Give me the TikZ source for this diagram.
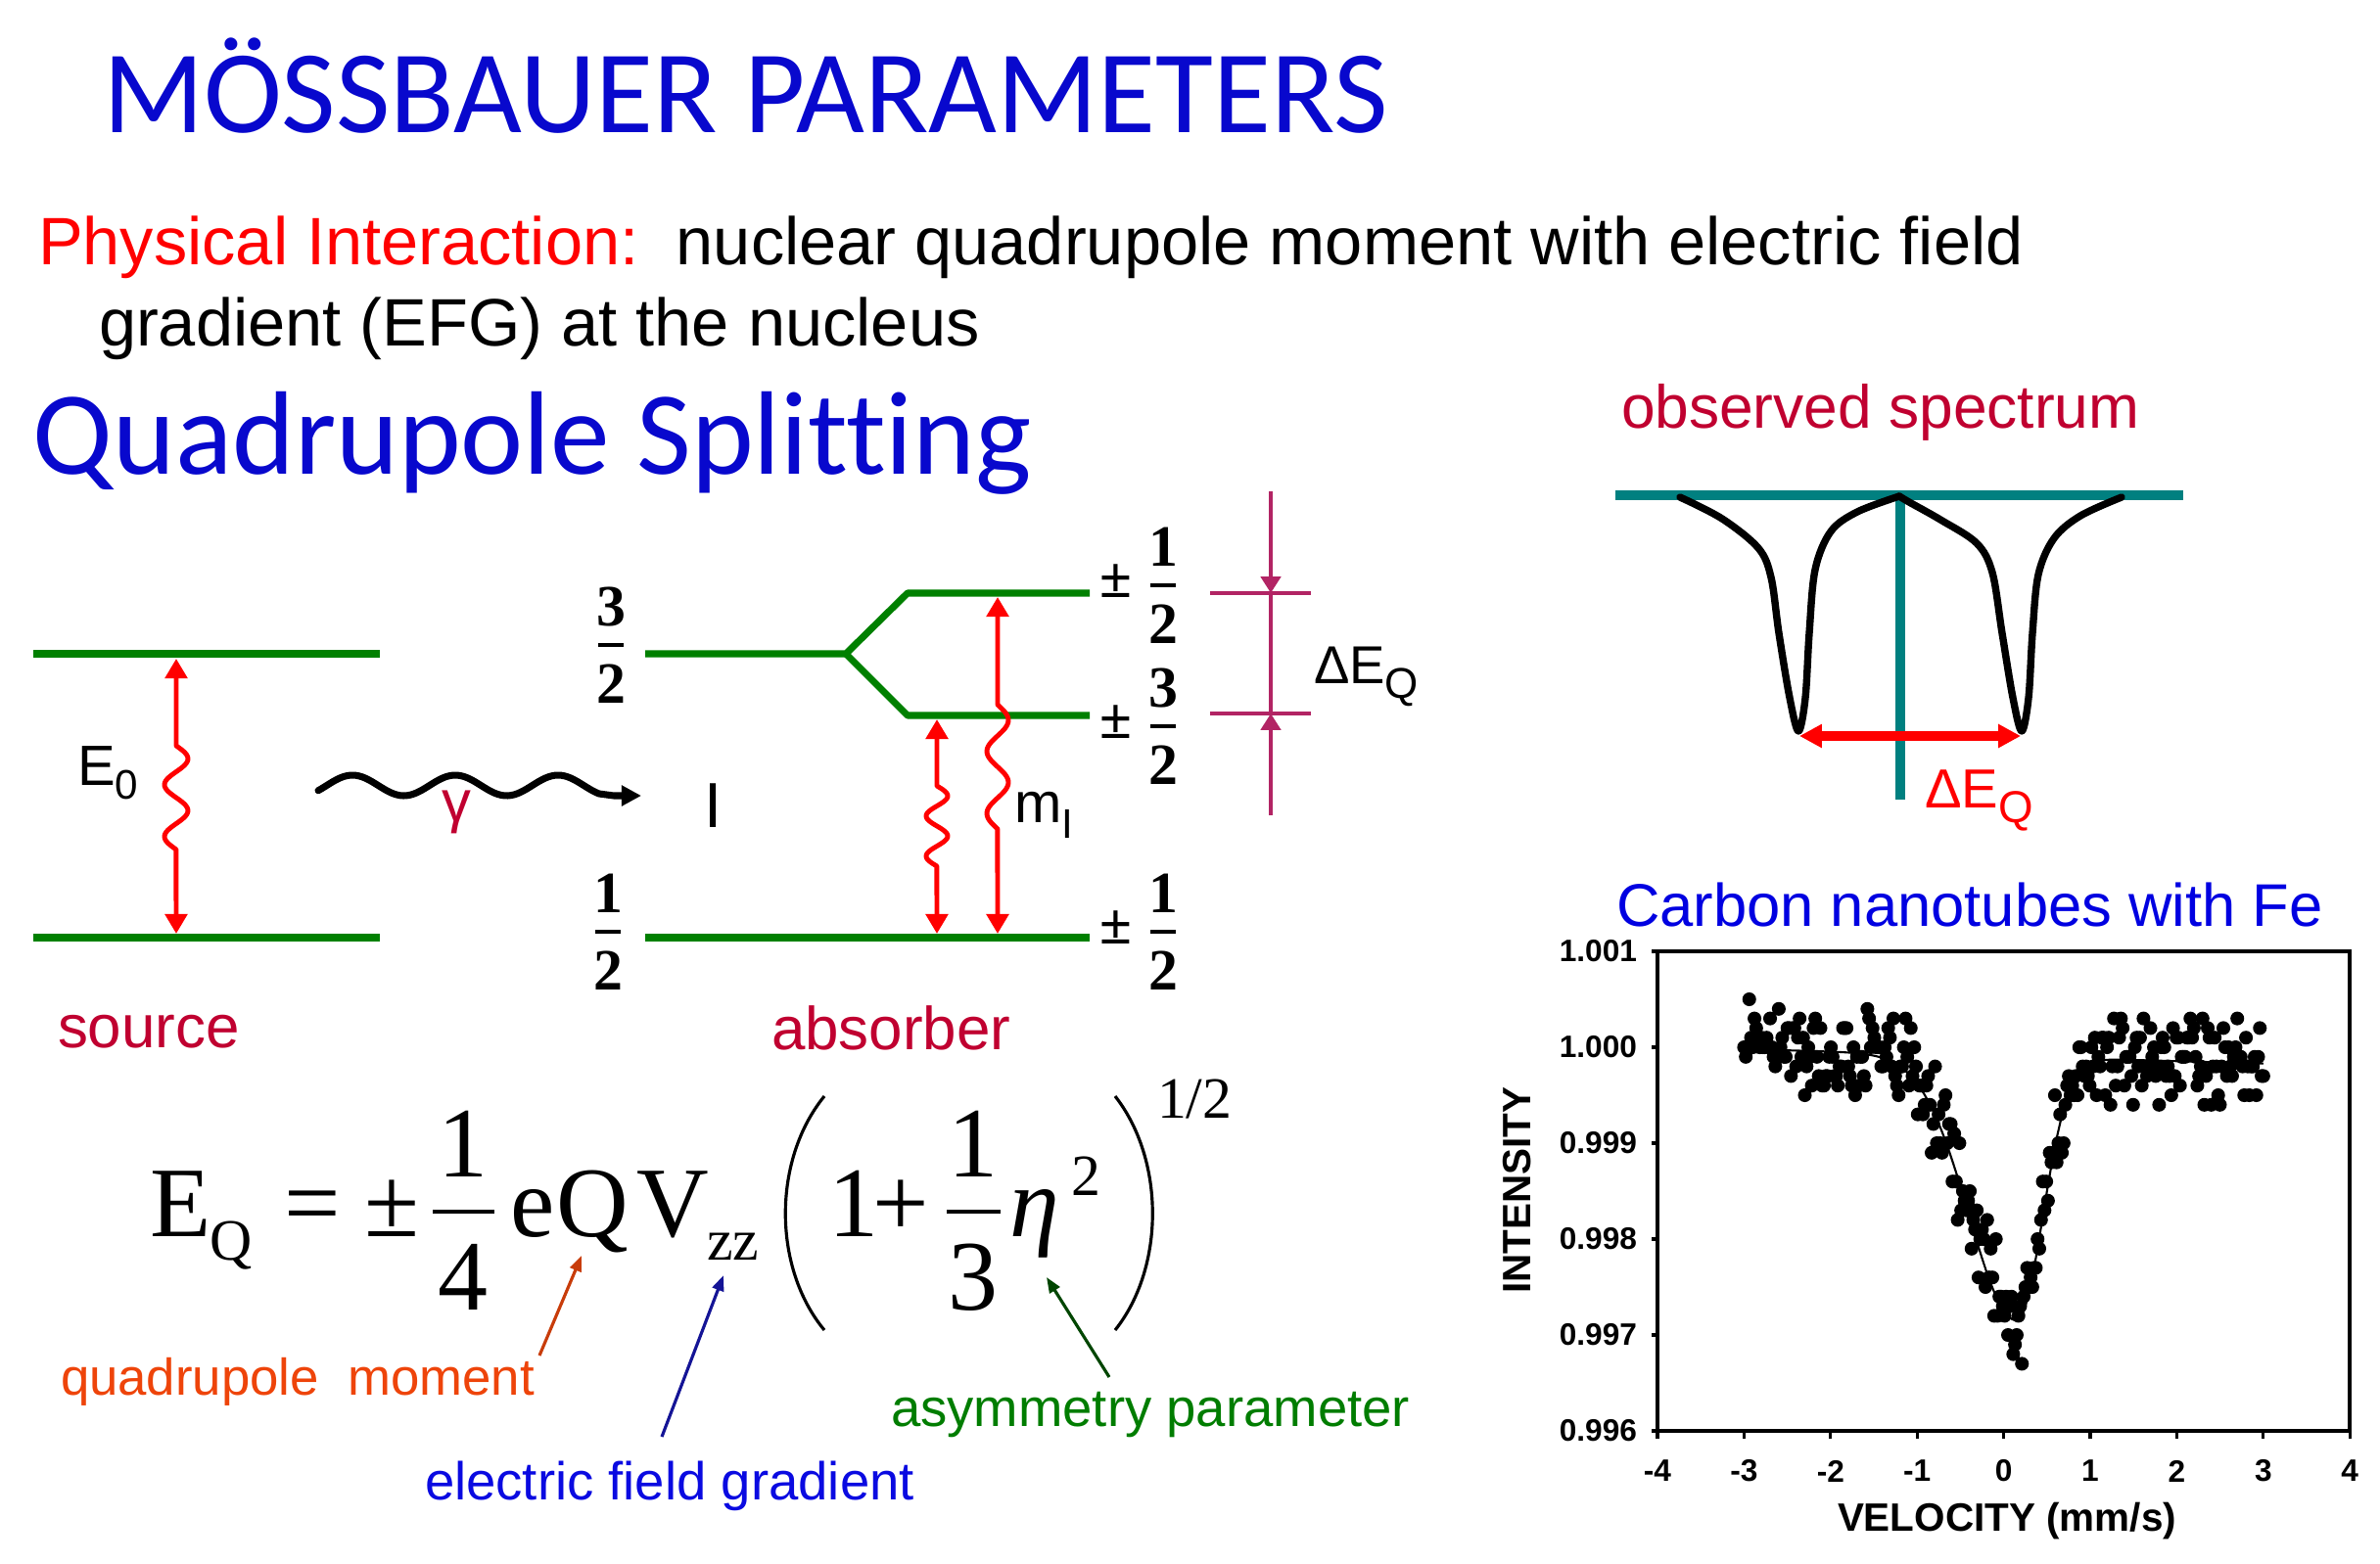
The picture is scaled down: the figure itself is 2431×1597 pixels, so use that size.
\documentclass[tikz,border=0pt]{standalone}
\usepackage{fontspec}
\setmainfont{Liberation Sans}
\newfontfamily\calfont[Ligatures=NoCommon]{Carlito}
\newfontfamily\tmsfont{Liberation Serif}
\usetikzlibrary{arrows.meta,calc}
\definecolor{titleblue}{RGB}{8,8,205}
\definecolor{crim}{RGB}{192,0,48}
\definecolor{lvgreen}{RGB}{0,128,0}
\definecolor{brkcol}{RGB}{178,36,100}
\definecolor{tealc}{RGB}{0,128,128}
\definecolor{qmcol}{RGB}{238,68,10}
\definecolor{qmarr}{RGB}{200,60,10}
\definecolor{efgcol}{RGB}{10,10,225}
\definecolor{efgarr}{RGB}{20,20,150}
\definecolor{asycol}{RGB}{0,125,0}
\definecolor{asyarr}{RGB}{0,70,0}
\definecolor{cnblue}{RGB}{0,0,225}
\newcommand{\fsz}[1]{\fontsize{#1}{#1}\selectfont}
\newcommand{\lvfrac}[5]{%
  \node[fracnum] (#1n) at (#2,#3-20) {#4};
  \draw[fracbar] (#2-13,#3) -- (#2+13,#3);
  \node[fracnum] (#1d) at (#2,#3+59) {#5};}
\begin{document}
\begin{tikzpicture}[x=0.01cm,y=-0.01cm,
  every node/.style={inner sep=0pt,outer sep=0pt},
  txt/.style={anchor=base west},
  level/.style={draw=lvgreen,line width=2pt},
  redarrow/.style={draw=red,line width=1.4pt,line join=round,
    arrows={Triangle[length=5.7pt,width=6.3pt]-Triangle[length=5.7pt,width=6.3pt]}},
  brk/.style={draw=brkcol,line width=1.4pt},
  brktip/.style={arrows={-Triangle[length=4.8pt,width=5.7pt]}},
  fracnum/.style={anchor=base,font=\tmsfont\bfseries\fsz{17}},
  fracbar/.style={draw=black,line width=0.9pt},
  pmsign/.style={anchor=center,font=\tmsfont\bfseries\fsz{17}},
  eq/.style={anchor=base west,font=\tmsfont\fsz{29}},
  eqs/.style={anchor=base west,font=\tmsfont\fsz{17}},
  eqfrac/.style={anchor=base,font=\tmsfont\fsz{29}},
  eqbar/.style={draw=black,line width=1.1pt},
  paren/.style={draw=black,line width=0.9pt},
  tealline/.style={draw=tealc,line width=2.6pt},
  ticklab/.style={font=\bfseries\fsz{9}},
  declare function={fitf(\v)=3.98-0.025*(\v+3)-2.75*exp(-((\v-0.15)^2)/(2*((\v<0.15)?0.3025:0.09)));}
]
\useasboundingbox[fill=white] (0,0) rectangle (2431,1597);

% ---------- headings ----------
\node[txt,text=titleblue,font=\calfont\fsz{34.3}] (title) at (105,136) {MÖSSBAUER PARAMETERS};
\node[txt,font=\fsz{19.5}] (phys1) at (39,271) {\textcolor{red}{Physical Interaction:}\ \ nuclear quadrupole moment with electric field};
\node[txt,font=\fsz{19.5}] (phys2) at (101,353) {gradient (EFG) at the nucleus};
\node[txt,text=titleblue,font=\calfont\fsz{34.5}] (qs) at (34,484) {Quadrupole Splitting};

% ---------- source levels ----------
\coordinate (s1a) at (34,668); \coordinate (s1b) at (388,668);
\coordinate (s0a) at (34,958); \coordinate (s0b) at (388,958);
\draw[level] (s1a) -- (s1b);
\draw[level] (s0a) -- (s0b);
\coordinate (sa1) at (180,673); \coordinate (sa2) at (180,954);
\draw[redarrow] (sa1) -- (180,762) -- plot[domain=0:1,samples=60,smooth] ({180+12*sin(720*\x)},{762+106*\x}) -- (sa2);
\node[txt,font=\fsz{16.5}] (E0) at (79,802) {E\lower4.2pt\hbox{\fsz{12}0}};

% ---------- gamma ----------
\coordinate (gtip) at (655,813);
\draw[line width=2pt,line join=round,line cap=round,arrows={-Triangle[length=5.7pt,width=5.7pt]}]
  plot[domain=325:612,samples=90,smooth] (\x,{802.5-10.5*sin((\x-333.75)*3.428571)}) -- (627,813) -- (gtip);
\node[anchor=center,text=crim,font=\fsz{17}] (gam) at (466,830) {γ};
\node[anchor=base,font=\fsz{18.5}] (Ilab) at (729,845) {I};

% ---------- absorber levels ----------
\coordinate (a1a) at (659,668); \coordinate (a1j) at (864,668);
\coordinate (a1u) at (927,606); \coordinate (a1ue) at (1113,606);
\coordinate (a1d) at (927,731); \coordinate (a1de) at (1113,731);
\coordinate (a0a) at (659,958); \coordinate (a0b) at (1113,958);
\draw[level,line join=round] (a1a) -- (a1j) -- (a1u) -- (a1ue);
\draw[level,line join=round] (a1j) -- (a1d) -- (a1de);
\draw[level] (a0a) -- (a0b);
\coordinate (r1a) at (957,735); \coordinate (r1b) at (957,954);
\draw[redarrow] (r1a) -- (957,803) -- plot[domain=0:1,samples=60,smooth] ({957+11*sin(720*\x)},{803+82*\x}) -- (r1b);
\coordinate (r2a) at (1019,610); \coordinate (r2b) at (1019,954);
\draw[redarrow] (r2a) -- (1019,720) -- plot[domain=0:1,samples=60,smooth] ({1019+11*sin(720*\x)},{720+127*\x}) -- (r2b);
\node[txt,font=\fsz{16.5}] (mI) at (1036,840) {m\lower4.8pt\hbox{\fsz{12}I}};

% fractions
\lvfrac{fl32}{624}{659}{3}{2}
\lvfrac{fl12}{621}{952}{1}{2}
\lvfrac{fr12u}{1188}{598}{1}{2}
\lvfrac{fr32}{1188}{742}{3}{2}
\lvfrac{fr12d}{1188}{952}{1}{2}
\node[pmsign] (pm1) at (1140,594) {±};
\node[pmsign] (pm2) at (1140,738) {±};
\node[pmsign] (pm3) at (1140,948) {±};

% Delta E_Q bracket
\coordinate (bt) at (1298,502); \coordinate (bk1) at (1298,606);
\coordinate (bk2) at (1298,729); \coordinate (bb) at (1298,833);
\coordinate (t1a) at (1236,606); \coordinate (t1b) at (1339,606);
\coordinate (t2a) at (1236,729); \coordinate (t2b) at (1339,729);
\draw[brk,brktip] (bt) -- (bk1);
\draw[brk] (bk1) -- (bk2);
\draw[brk,brktip] (bb) -- (bk2);
\draw[brk] (t1a) -- (t1b);
\draw[brk] (t2a) -- (t2b);
\node[txt,font=\fsz{15.5}] (dEQ) at (1342,698) {ΔE\lower4.3pt\hbox{\fsz{12.5}Q}};

\node[txt,text=crim,font=\fsz{17.6}] (src) at (59,1070) {source};
\node[txt,text=crim,font=\fsz{17.6}] (abs) at (788,1072) {absorber};

% ---------- equation ----------
\node[eq] (eE) at (153,1263) {E};
\node[eqs] (eQs) at (214,1287) {Q};
\node[eq] (eeq) at (290,1263) {=};
\node[eq] (epm) at (372,1263) {±};
\node[eqfrac] (f4n) at (473,1202) {1};
\draw[eqbar] (442,1238) -- (505,1238);
\node[eqfrac] (f4d) at (473,1338) {4};
\node[eq] (ee) at (521,1263) {e};
\node[eq] (eQ) at (568,1263) {Q};
\node[eq] (eV) at (650,1263) {V};
\node[eqs] (ezz) at (722,1287) {zz};
\draw[paren] (842,1120) .. controls (789,1185) and (789,1295) .. (842,1359);
\node[eq] (e1) at (846,1263) {1};
\node[eq] (eplus) at (891,1263) {+};
\node[eqfrac] (f3n) at (994,1202) {1};
\draw[eqbar] (967,1238) -- (1022,1238);
\node[eqfrac] (f3d) at (994,1338) {3};
\node[eq,font=\tmsfont\itshape\fsz{29}] (eeta) at (1031,1263) {η};
\node[eqs] (e2) at (1094,1221) {2};
\draw[paren] (1139,1120) .. controls (1190,1185) and (1190,1295) .. (1139,1359);
\node[eqs] (ehalf) at (1182,1142) {1/2};

\node[txt,text=qmcol,font=\fsz{15}] (qmlab) at (62,1425) {quadrupole\ \ moment};
\node[txt,text=efgcol,font=\fsz{15.5}] (efglab) at (434,1532) {electric field gradient};
\node[txt,text=asycol,font=\fsz{15.5}] (asylab) at (910,1457) {asymmetry parameter};
\coordinate (qmt) at (551,1385); \coordinate (qmh) at (594,1283);
\coordinate (eft) at (676,1468); \coordinate (efh) at (739,1303);
\coordinate (ast) at (1133,1407); \coordinate (ash) at (1069,1305);
\draw[qmarr,line width=0.9pt,arrows={-Triangle[length=4.5pt,width=3.4pt]}] (qmt) -- (qmh);
\draw[efgarr,line width=0.9pt,arrows={-Triangle[length=4.5pt,width=3.4pt]}] (eft) -- (efh);
\draw[asyarr,line width=0.9pt,arrows={-Triangle[length=4.5pt,width=3.4pt]}] (ast) -- (ash);

% ---------- observed spectrum ----------
\node[txt,text=crim,font=\fsz{17.7}] (obs) at (1656,437) {observed spectrum};
\coordinate (th1) at (1650,506); \coordinate (th2) at (2230,506);
\coordinate (tv1) at (1941,506); \coordinate (tv2) at (1941,817);
\draw[tealline] (th1) -- (th2);
\draw[tealline] (tv1) -- (tv2);
\draw[line width=2.1pt,line join=round,line cap=round] plot[smooth,tension=0.55] coordinates {
 (1716,508) (1759,530) (1796,560) (1809,590) (1817,647) (1828,713) (1837,747)
 (1844,713) (1848,647) (1854,582) (1870,543) (1897,523) (1940,507)};
\draw[line width=2.1pt,line join=round,line cap=round] plot[smooth,tension=0.55] coordinates {
 (1940,507) (1950,513) (1982,531) (2019,555) (2035,585) (2045,647) (2056,713) (2065,747)
 (2072,713) (2076,647) (2082,587) (2098,550) (2125,527) (2167,508)};
\coordinate (da1) at (1838,752); \coordinate (da2) at (2064,752);
\draw[red,line width=2.8pt,arrows={Triangle[length=6.5pt,width=6.5pt]-Triangle[length=6.5pt,width=6.5pt]}] (da1) -- (da2);
\node[txt,text=red,font=\fsz{16}] (dEQ2) at (1966,825) {ΔE\lower4.3pt\hbox{\fsz{13}Q}};

% ---------- Moessbauer plot ----------
\node[txt,text=cnblue,font=\fsz{17.5}] (cnt) at (1651,946) {Carbon nanotubes with Fe};
\coordinate (pbl) at (1693,1462); \coordinate (ptr) at (2400,972);
\draw[line width=0.9pt] (pbl) rectangle (ptr);
\foreach \k/\lab in {0/0.996,1/0.997,2/0.998,3/0.999,4/1.000,5/1.001}{
  \draw[line width=0.9pt] (1693,{1462-98*\k}) -- (1687,{1462-98*\k});
  \node[ticklab,anchor=east] (yl\k) at (1672,{1462-98*\k}) {\lab};
}
\foreach \k in {-4,...,4}{
  \draw[line width=0.9pt] ({1693+88.4*(\k+4)},1462) -- ({1693+88.4*(\k+4)},1470);
  \node[ticklab,anchor=center] (xl\k) at ({1693+88.4*(\k+4)},1503) {\k};
}
\node[font=\bfseries\fsz{11.5},rotate=90,anchor=center] (ylab) at (1550,1216) {INTENSITY};
\node[font=\bfseries\fsz{11.5},anchor=center] (xlab) at (2050,1554) {VELOCITY (mm/s)};
\pgfmathsetseed{7}
\foreach \i in {0,...,299}{
  \pgfmathsetmacro\vv{-3+6*\i/299}
  \pgfmathsetmacro\uu{round(10*(fitf(\vv)+0.3*(rand+rand)))/10}
  \fill ({1693+88.4*(\vv+4)},{1462-98*\uu}) circle[radius=2pt];
}
\draw[line width=0.6pt] plot[domain=-3:3,samples=160] ({1693+88.4*(\x+4)},{1462-98*fitf(\x)});
\end{tikzpicture}
\end{document}
